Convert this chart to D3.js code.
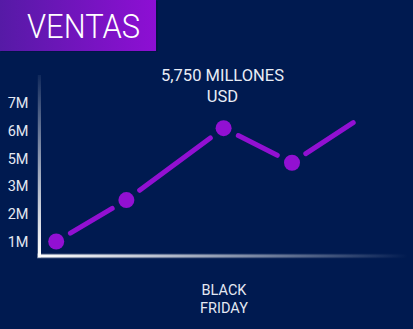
<!DOCTYPE html>
<html><head><meta charset="utf-8">
<script src="https://cdn.jsdelivr.net/npm/d3@7"></script>
<style>html,body{margin:0;padding:0;background:#001a50;overflow:hidden}</style>
</head><body>
<script>
// ---- data ----
const title = "VENTAS";
const yTickLabels = ["1M","2M","3M","5M","6M","7M"];
const yTickValues = [1,2,3,5,6,7];
const xValues = [0.9, 4.8, 10.2, 14.0, 17.4];
const salesValues = [1.0, 2.5, 6.1, 4.7, 6.3];
const hasDot = [true, true, true, true, false];
const annotationLines = ["5,750 MILLONES", "USD"];
const xLabelLines = ["BLACK", "FRIDAY"];

const W = 413, H = 329;
const svg = d3.select("body").append("svg").attr("width", W).attr("height", H);
const defs = svg.append("defs");

svg.append("rect").attr("width", W).attr("height", H).attr("fill", "#001a50");

// title box
const tg = defs.append("linearGradient").attr("id","tg").attr("x1","0").attr("x2","1").attr("y1","0").attr("y2","0");
tg.append("stop").attr("offset","0").attr("stop-color","#561aa6");
tg.append("stop").attr("offset","1").attr("stop-color","#8e0fd4");
svg.append("rect").attr("x",1).attr("y",1).attr("width",157).attr("height",51).attr("fill","#00143f").attr("opacity",0.6);
svg.append("rect").attr("x",0).attr("y",0).attr("width",156).attr("height",51).attr("fill","url(#tg)");
svg.append("text").attr("x",27).attr("y",37.5).attr("font-family","Roboto").attr("font-weight",300).attr("font-size",33.5)
  .attr("textLength",113).attr("lengthAdjust","spacingAndGlyphs")
  .attr("fill","#ffffff").text(title);

// scales
const y = d3.scaleLinear().domain(yTickValues).range([241.5, 213.9, 186.2, 158.6, 130.9, 103.3]);
const x = d3.scaleLinear().domain([0, 20]).range([40, 400]);

// axes lines with gradients
const yg = defs.append("linearGradient").attr("id","yg").attr("gradientUnits","userSpaceOnUse")
  .attr("x1",0).attr("x2",0).attr("y1",75).attr("y2",257);
yg.append("stop").attr("offset","0").attr("stop-color","#ffffff").attr("stop-opacity",0.05);
yg.append("stop").attr("offset","1").attr("stop-color","#ffffff").attr("stop-opacity",1);
const xg = defs.append("linearGradient").attr("id","xg").attr("gradientUnits","userSpaceOnUse")
  .attr("x1",38).attr("x2",408).attr("y1",0).attr("y2",0);
xg.append("stop").attr("offset","0").attr("stop-color","#ffffff").attr("stop-opacity",1);
xg.append("stop").attr("offset","1").attr("stop-color","#ffffff").attr("stop-opacity",0);

svg.append("rect").attr("x",37).attr("y",75).attr("width",4).attr("height",183).attr("fill","url(#yg)").attr("opacity",0.25);
svg.append("rect").attr("x",37).attr("y",253.5).attr("width",371).attr("height",5).attr("fill","url(#xg)").attr("opacity",0.25);
svg.append("rect").attr("x",38).attr("y",75).attr("width",3).attr("height",182).attr("fill","url(#yg)");
svg.append("rect").attr("x",38).attr("y",254.5).attr("width",370).attr("height",3).attr("fill","url(#xg)");

// y tick labels
svg.append("g").selectAll("text").data(yTickValues).join("text")
  .attr("x", 28.5).attr("y", d => y(d) + 5)
  .attr("text-anchor","end").attr("font-family","Roboto").attr("font-size",14.5)
  .attr("fill","#e4e8f2").text((d,i) => yTickLabels[i]);

// line segments with gaps around dots
const pts = xValues.map((v,i) => ({x: x(v), y: y(salesValues[i]), dot: hasDot[i]}));
const gap = 16.5;
const segs = d3.pairs(pts).map(([a,b]) => {
  const dx = b.x - a.x, dy = b.y - a.y, L = Math.hypot(dx, dy);
  const ux = dx / L, uy = dy / L;
  const s = a.dot ? gap : 0, e = b.dot ? gap : 0;
  return {x1: a.x + ux*s, y1: a.y + uy*s, x2: b.x - ux*e, y2: b.y - uy*e};
});
svg.append("g").selectAll("line").data(segs).join("line")
  .attr("x1", d=>d.x1).attr("y1", d=>d.y1).attr("x2", d=>d.x2).attr("y2", d=>d.y2)
  .attr("stroke","#9210d2").attr("stroke-width",5).attr("stroke-linecap","round");

svg.append("g").selectAll("circle").data(pts.filter(p => p.dot)).join("circle")
  .attr("cx", d=>d.x).attr("cy", d=>d.y).attr("r", 8).attr("fill","#9210d2");

// annotation
svg.append("g").selectAll("text").data(annotationLines).join("text")
  .attr("x", 222.5).attr("y", (d,i) => 80.7 + i*21)
  .attr("text-anchor","middle").attr("font-family","Roboto").attr("font-size",16.5)
  .attr("fill","#e8ecf5").text(d=>d);

// x label
svg.append("g").selectAll("text").data(xLabelLines).join("text")
  .attr("x", 224).attr("y", (d,i) => 295 + i*17.7)
  .attr("text-anchor","middle").attr("font-family","Roboto").attr("font-size",14.5)
  .attr("fill","#e4e8f2").text(d=>d);
</script>
</body></html>
